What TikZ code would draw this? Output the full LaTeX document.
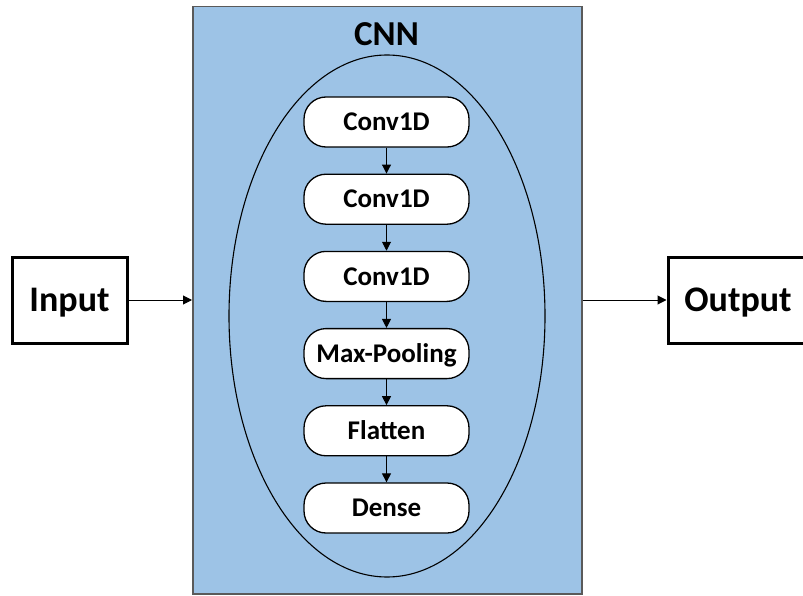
\documentclass[tikz,border=0pt]{standalone}
\usepackage{fontspec}
\setmainfont{Carlito}
\usetikzlibrary{arrows.meta,shapes.geometric}
\definecolor{cnnblue}{HTML}{9DC3E6}
\definecolor{framegray}{HTML}{5A5A5A}
\begin{document}
\begin{tikzpicture}[x=1pt,y=-1pt,
  layer/.style={draw=black, line width=1.3pt, fill=white, rounded corners=22pt,
    minimum width=165pt, minimum height=50pt, inner sep=0pt,
    font=\fontsize{27}{30}\selectfont\bfseries, text height=17.5pt, text depth=0pt},
  io/.style={draw=black, line width=3pt, fill=white, minimum width=115pt,
    minimum height=86pt, inner sep=0pt,
    font=\fontsize{36}{40}\selectfont\bfseries, text height=23pt, text depth=0pt},
  flow/.style={-{Triangle[length=9pt,width=9pt]}, line width=1pt}]
\useasboundingbox (0,0) rectangle (803,596);
\clip (0,0) rectangle (803,596);
\node[draw=framegray, fill=cnnblue, line width=1.5pt, minimum width=389pt,
  minimum height=587pt, inner sep=0pt, anchor=north west] (cnnbox) at (192,6) {};
\node[font=\fontsize{35}{40}\selectfont\bfseries, inner sep=0pt, text height=22.5pt,
  text depth=0pt] (cnntitle) at (386.5,34) {CNN};
\node[draw=black, ellipse, line width=1.1pt, minimum width=316pt, minimum height=522pt,
  inner sep=0pt] (ell) at (387,316) {};
\node[layer] (l1) at (386.5,122) {Conv1D};
\node[layer] (l2) at (386.5,199.2) {Conv1D};
\node[layer] (l3) at (386.5,276.4) {Conv1D};
\node[layer] (l4) at (386.5,353.6) {Max-Pooling};
\node[layer] (l5) at (386.5,430.8) {Flatten};
\node[layer] (l6) at (386.5,508) {Dense};
\foreach \a/\b in {l1/l2,l2/l3,l3/l4,l4/l5,l5/l6}
  \draw[flow] (\a.south) -- (\b.north);
\node[io] (in) at (69.5,300) {Input};
\node[io, minimum width=140pt] (out) at (738,300) {Output};
\draw[flow] (in.east) -- (in.east -| cnnbox.west);
\draw[flow] (out.west -| cnnbox.east) -- (out.west);
\end{tikzpicture}
\end{document}
